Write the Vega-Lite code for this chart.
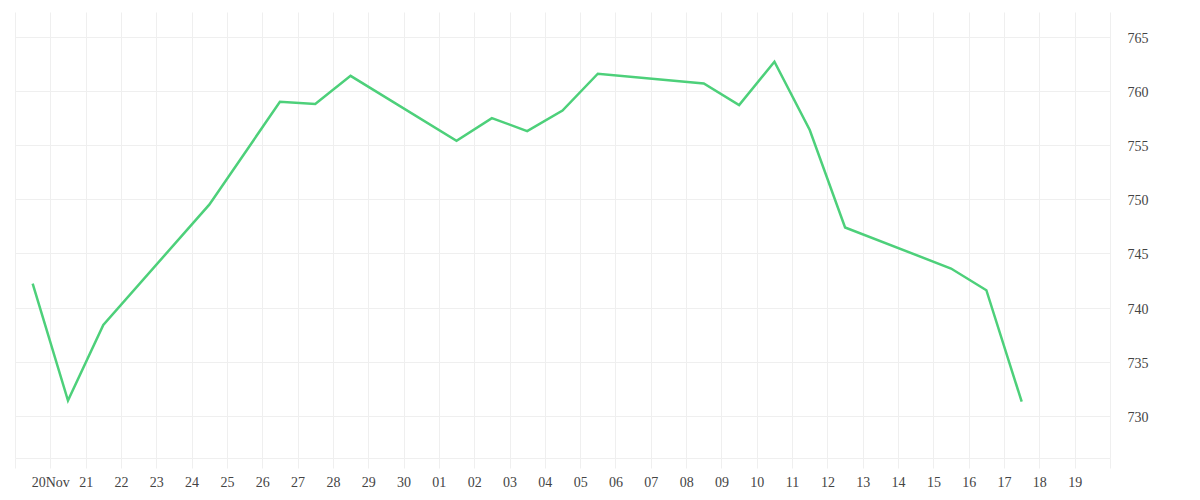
{
  "$schema": "https://vega.github.io/schema/vega-lite/v6.json",
  "autosize": "none",
  "padding": {"left": 15, "top": 12, "right": 90, "bottom": 42},
  "width": 1095,
  "height": 446,
  "background": "white",
  "config": {
    "font": "Liberation Serif",
    "view": {"stroke": null},
    "axis": {
      "gridColor": "#efefef",
      "gridWidth": 1,
      "domainColor": "#efefef",
      "tickColor": "#efefef",
      "labelColor": "#444444",
      "labelFontSize": 14,
      "labelFont": "Liberation Serif"
    }
  },
  "data": {
    "values": [
      {"date": "2025-11-19T12:00:00", "price": 742.2},
      {"date": "2025-11-20T12:00:00", "price": 731.4},
      {"date": "2025-11-21T12:00:00", "price": 738.4},
      {"date": "2025-11-24T12:00:00", "price": 749.5},
      {"date": "2025-11-26T12:00:00", "price": 759.0},
      {"date": "2025-11-27T12:00:00", "price": 758.8},
      {"date": "2025-11-28T12:00:00", "price": 761.4},
      {"date": "2025-12-01T12:00:00", "price": 755.4},
      {"date": "2025-12-02T12:00:00", "price": 757.5},
      {"date": "2025-12-03T12:00:00", "price": 756.3},
      {"date": "2025-12-04T12:00:00", "price": 758.2},
      {"date": "2025-12-05T12:00:00", "price": 761.6},
      {"date": "2025-12-08T12:00:00", "price": 760.7},
      {"date": "2025-12-09T12:00:00", "price": 758.7},
      {"date": "2025-12-10T12:00:00", "price": 762.7},
      {"date": "2025-12-11T12:00:00", "price": 756.4},
      {"date": "2025-12-12T12:00:00", "price": 747.4},
      {"date": "2025-12-15T12:00:00", "price": 743.6},
      {"date": "2025-12-16T12:00:00", "price": 741.6},
      {"date": "2025-12-17T12:00:00", "price": 731.3}
    ]
  },
  "mark": {"type": "line", "color": "#4dd07a", "strokeWidth": 2.5, "strokeJoin": "miter"},
  "encoding": {
    "x": {
      "field": "date",
      "type": "temporal",
      "scale": {
        "domain": [
          {"year": 2025, "month": "nov", "date": 19},
          {"year": 2025, "month": "dec", "date": 20}
        ],
        "nice": false
      },
      "axis": {
        "title": null,
        "tickCount": {"interval": "day", "step": 1},
        "tickSize": 10,
        "labelPadding": 7,
        "labelOverlap": false,
        "labelFlush": false,
        "labelBound": false,
        "labelExpr": "(month(datum.value) == 10 && date(datum.value) == 19) || (month(datum.value) == 11 && date(datum.value) == 20) ? '' : (month(datum.value) == 10 && date(datum.value) == 20 ? '20Nov' : timeFormat(datum.value, '%d'))"
      }
    },
    "y": {
      "field": "price",
      "type": "quantitative",
      "scale": {"domain": [726.1, 767.3], "nice": false, "zero": false},
      "axis": {
        "title": null,
        "orient": "right",
        "values": [730, 735, 740, 745, 750, 755, 760, 765],
        "ticks": false,
        "domain": false,
        "labelPadding": 17,
        "labelOffset": 1.5
      }
    }
  }
}
